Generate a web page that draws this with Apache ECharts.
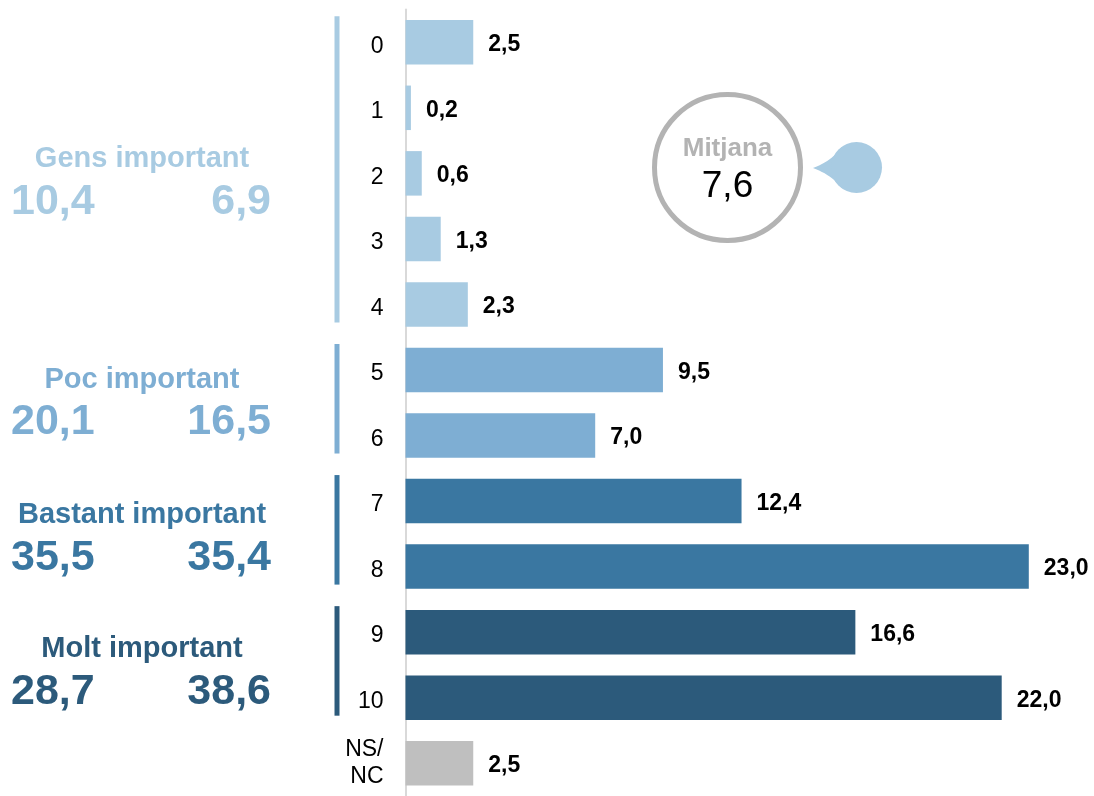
<!DOCTYPE html>
<html>
<head>
<meta charset="utf-8">
<script src="https://cdn.jsdelivr.net/npm/echarts@6/dist/echarts.min.js"></script>
<style>
html,body{margin:0;padding:0;background:#fff;}
#main{width:1094px;height:796px;}
</style>
</head>
<body>
<div id="main"></div>
<script>
// ---- data ----
var categories = ['0','1','2','3','4','5','6','7','8','9','10','NS/\nNC'];
var values = [2.5, 0.2, 0.6, 1.3, 2.3, 9.5, 7.0, 12.4, 23.0, 16.6, 22.0, 2.5];
var groupNames = ['Gens important', 'Poc important', 'Bastant important', 'Molt important'];
var groupLeftValues = [10.4, 20.1, 35.5, 28.7];
var groupRightValues = [6.9, 16.5, 35.4, 38.6];
var groupStart = [0, 5, 7, 9];
var groupEnd = [4, 6, 8, 10];
var meanLabel = 'Mitjana';
var meanValue = 7.6;

// ---- styles ----
var groupColors = ['#a8cbe2', '#7eaed3', '#3a77a1', '#2c5a7b'];
var otherColor = '#bfbfbf';
var FONT = '"Liberation Sans", Arial, sans-serif';
var titleY = [158.5, 379.5, 514.5, 648.5];
var numY = [202, 422, 558, 692];

function fmt(v) { return v.toFixed(1).replace('.', ','); }

function colorFor(i) {
  for (var g = 0; g < groupStart.length; g++) {
    if (i >= groupStart[g] && i <= groupEnd[g]) return groupColors[g];
  }
  return otherColor;
}

var barData = values.map(function (v, i) {
  return { value: v, itemStyle: { color: colorFor(i) } };
});

var chart = echarts.init(document.getElementById('main'), null, { renderer: 'canvas' });

var option = {
  animation: false,
  backgroundColor: '#ffffff',
  grid: { left: 405.5, top: 9.5, width: 677.5, height: 794, containLabel: false },
  xAxis: {
    type: 'value', min: 0, max: 25, show: false
  },
  yAxis: {
    type: 'category',
    data: categories,
    inverse: true,
    offset: 2,
    axisLine: { show: true, lineStyle: { color: '#d9d9d9', width: 2 } },
    axisTick: { show: false },
    axisLabel: {
      margin: 20,
      color: '#000',
      fontFamily: FONT,
      fontSize: 23,
      lineHeight: 27,
      align: 'right',
      formatter: function (v) {
        return v.indexOf('\n') >= 0 ? v : '{a|' + v + '}';
      },
      rich: {
        a: { fontFamily: FONT, fontSize: 23, color: '#000', padding: [8, 0, 0, 0] }
      }
    },
    splitLine: { show: false }
  },
  series: [{
    type: 'bar',
    data: barData,
    barWidth: 44.5,
    label: {
      show: true,
      position: 'right',
      distance: 15,
      offset: [0, 2.5],
      color: '#000',
      fontFamily: FONT,
      fontWeight: 'bold',
      fontSize: 23,
      formatter: function (p) { return fmt(p.value); }
    }
  }]
};
chart.setOption(option);

// ---- annotations computed from axis ----
var graphics = [];
for (var g = 0; g < groupNames.length; g++) {
  var y1 = chart.convertToPixel({ yAxisIndex: 0 }, groupStart[g]);
  var y2 = chart.convertToPixel({ yAxisIndex: 0 }, groupEnd[g]);
  graphics.push({
    type: 'rect',
    shape: { x: 334.5, y: y1 - 26, width: 5, height: (y2 + 18) - (y1 - 26) },
    style: { fill: groupColors[g] }
  });
  graphics.push({
    type: 'text', x: 142, y: titleY[g],
    style: { text: groupNames[g], fill: groupColors[g], font: 'bold 29px ' + FONT, align: 'center', verticalAlign: 'middle' }
  });
  graphics.push({
    type: 'text', x: 11, y: numY[g],
    style: { text: fmt(groupLeftValues[g]), fill: groupColors[g], font: 'bold 43px ' + FONT, align: 'left', verticalAlign: 'middle' }
  });
  graphics.push({
    type: 'text', x: 271, y: numY[g],
    style: { text: fmt(groupRightValues[g]), fill: groupColors[g], font: 'bold 43px ' + FONT, align: 'right', verticalAlign: 'middle' }
  });
}

// mean badge
graphics.push({
  type: 'circle',
  shape: { cx: 727.5, cy: 167.5, r: 73 },
  style: { fill: '#fff', stroke: '#b3b3b3', lineWidth: 5 }
});
graphics.push({
  type: 'text', x: 727.5, y: 149,
  style: { text: meanLabel, fill: '#b3b3b3', font: 'bold 26px ' + FONT, align: 'center', verticalAlign: 'middle' }
});
graphics.push({
  type: 'text', x: 727.5, y: 187,
  style: { text: fmt(meanValue), fill: '#000', font: '37px ' + FONT, align: 'center', verticalAlign: 'middle' }
});

// droplet pointer: circle + concave tail (polygon from quadratic curves)
var dcx = 856.5, dcy = 167.5, dr = 25.5, tipX = 813, tipY = 168;
function quad(p0, c, p1, n) {
  var pts = [];
  for (var k = 0; k <= n; k++) {
    var t = k / n, u = 1 - t;
    pts.push([u * u * p0[0] + 2 * u * t * c[0] + t * t * p1[0], u * u * p0[1] + 2 * u * t * c[1] + t * t * p1[1]]);
  }
  return pts;
}
var topT = [dcx - 15, dcy - 20.6], botT = [dcx - 15, dcy + 20.6];
var tail = quad([tipX, tipY], [832, 161], topT, 12)
  .concat([[dcx, dcy]])
  .concat(quad(botT, [832, 175], [tipX, tipY], 12));
graphics.push({
  type: 'polygon',
  shape: { points: tail },
  style: { fill: groupColors[0] }
});
graphics.push({
  type: 'circle',
  shape: { cx: dcx, cy: dcy, r: dr },
  style: { fill: groupColors[0] }
});

chart.setOption({ graphic: graphics });
</script>
</body>
</html>
